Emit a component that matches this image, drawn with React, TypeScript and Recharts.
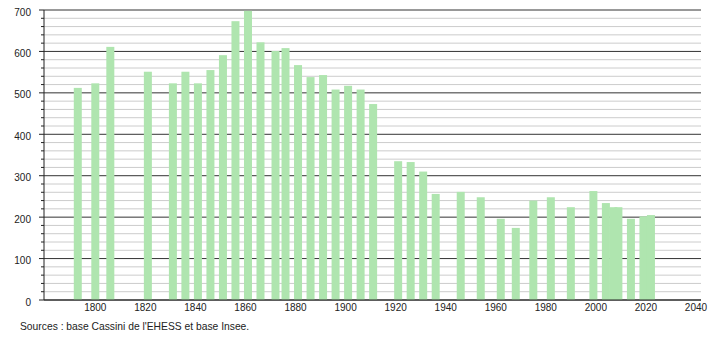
import React from 'react';
import { BarChart, Bar, XAxis, YAxis, CartesianGrid } from 'recharts';

const years = [
  1793, 1800, 1806, 1821, 1831, 1836, 1841, 1846, 1851, 1856, 1861, 1866, 1872, 1876, 1881,
  1886, 1891, 1896, 1901, 1906, 1911, 1921, 1926, 1931, 1936, 1946, 1954, 1962, 1968, 1975,
  1982, 1990, 1999, 2004, 2007, 2009, 2014, 2019, 2022,
];
const population = [
  512, 523, 611, 551, 523, 551, 523, 555, 591, 673, 698, 622, 601, 608, 567,
  538, 543, 508, 517, 508, 473, 335, 333, 310, 256, 261, 248, 196, 174, 240,
  248, 224, 263, 234, 224, 224, 196, 202, 205,
];
const xTicks = [1800, 1820, 1840, 1860, 1880, 1900, 1920, 1940, 1960, 1980, 2000, 2020, 2040];
const yTicks = Array.from({ length: 36 }, (_, i) => i * 20);
const sourceText = "Sources : base Cassini de l'EHESS et base Insee.";

const data = years.map((year, i) => ({ year, pop: population[i] }));

const FONT = '"Liberation Sans", Arial, sans-serif';

const YTick = (props: any) => {
  const { x, y, payload } = props;
  const major = payload.value % 100 === 0;
  return (
    <g>
      <line x1={x - (major ? 5 : 3)} x2={x} y1={y} y2={y} stroke="#222" />
      {major && (
        <text x={x - 13} y={y + 2} dy="0.355em" textAnchor="end" fontSize={10} fill="#222" fontFamily={FONT}>
          {payload.value}
        </text>
      )}
    </g>
  );
};

// every 5th line (multiples of 100) is the dark one
const GridLine = (props: any) => {
  const { x1, x2, y1, y2, index } = props;
  const major = index % 5 === 0;
  return <line key={`g-${index}`} x1={x1} x2={x2} y1={y1} y2={y2} stroke={major ? '#333' : '#cccccc'} strokeWidth={1} />;
};

const NarrowBar = (props: any) => {
  const { x, y, width, height, fill } = props;
  if (!height || height <= 0) return null;
  return <rect x={x + width / 2 - 4} y={y} width={8} height={height} fill={fill} />;
};

export default function App() {
  return (
    <div style={{ position: 'absolute', left: 0, top: 0, width: 710, height: 340, background: '#fff' }}>
      <BarChart width={710} height={340} data={data} margin={{ top: 10, right: 9, left: 0, bottom: 20 }}>
        <CartesianGrid vertical={false} horizontal={GridLine} />
        <XAxis
          dataKey="year"
          type="number"
          domain={[1779.5, 2042]}
          ticks={xTicks}
          allowDataOverflow
          tickLine={false}
          tickSize={0}
          tickMargin={4}
          height={20}
          axisLine={{ stroke: '#222' }}
          tick={{ fontSize: 10, fill: '#222', fontFamily: FONT }}
        />
        <YAxis
          type="number"
          domain={[0, 700]}
          ticks={yTicks}
          interval={0}
          width={44}
          tickLine={false}
          tickSize={0}
          tickMargin={0}
          axisLine={{ stroke: '#222' }}
          tick={<YTick />}
        />
        <Bar dataKey="pop" fill="#afe5af" isAnimationActive={false} shape={<NarrowBar />} />
      </BarChart>
      <div
        style={{
          position: 'absolute',
          left: 20,
          top: 321,
          fontSize: 10.3,
          fontFamily: FONT,
          color: '#222',
          whiteSpace: 'nowrap',
        }}
      >
        {sourceText}
      </div>
    </div>
  );
}
